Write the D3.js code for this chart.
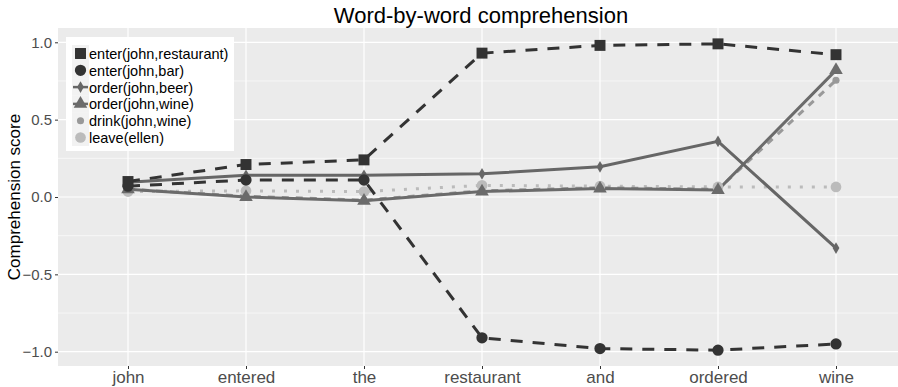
<!DOCTYPE html>
<html>
<head>
<meta charset="utf-8">
<script src="https://cdn.jsdelivr.net/npm/d3@7"></script>
<style>
  body { margin: 0; background: #fff; }
  text { font-family: "Liberation Sans", Arial, sans-serif; }
</style>
</head>
<body>
<div id="chart"></div>
<script>
var words = ["john", "entered", "the", "restaurant", "and", "ordered", "wine"];
var yTicks = [-1.0, -0.5, 0.0, 0.5, 1.0];

var enterRestaurant = [0.10, 0.21, 0.24, 0.93, 0.98, 0.99, 0.92];
var enterBar = [0.07, 0.11, 0.11, -0.91, -0.98, -0.99, -0.95];
var orderBeer = [0.095, 0.14, 0.14, 0.15, 0.195, 0.36, -0.33];
var orderWine = [0.05, 0.0, -0.025, 0.035, 0.055, 0.045, 0.82];
var drinkWine = [0.05, 0.005, -0.02, 0.04, 0.06, 0.05, 0.755];
var leaveEllen = [0.035, 0.04, 0.035, 0.075, 0.07, 0.065, 0.065];

var seriesNames = ["enter(john,restaurant)", "enter(john,bar)", "order(john,beer)",
                   "order(john,wine)", "drink(john,wine)", "leave(ellen)"];
var seriesValues = [enterRestaurant, enterBar, orderBeer, orderWine, drinkWine, leaveEllen];

function init() {
    var w = 898, h = 387;
    var left = 58, right = 898, top = 28, bottom = 366;

    var styles = [
        { color: "#333333", dash: "12,10", shape: d3.symbolSquare, size: 120 },
        { color: "#333333", dash: "12,10", shape: d3.symbolCircle, size: 100 },
        { color: "#666666", dash: null, shape: d3.symbolDiamond, size: 40 },
        { color: "#6b6b6b", dash: null, shape: d3.symbolTriangle, size: 80 },
        { color: "#999999", dash: "7,7", shape: d3.symbolCircle, size: 40 },
        { color: "#bbbbbb", dash: "3,9", shape: d3.symbolCircle, size: 90 }
    ];

    var svg = d3.select("#chart").append("svg")
        .attr("width", w).attr("height", h);

    var xScale = d3.scalePoint().domain(words).range([128, 836]);
    var yScale = d3.scaleLinear().domain([-1, 1]).range([351.7, 42.3]);

    svg.append("rect").attr("x", left).attr("y", top)
        .attr("width", right - left).attr("height", bottom - top)
        .attr("fill", "#ebebeb");

    // minor grid
    svg.selectAll(".minor").data([-0.75, -0.25, 0.25, 0.75]).enter()
        .append("line")
        .attr("x1", left).attr("x2", right)
        .attr("y1", function(d) { return yScale(d); })
        .attr("y2", function(d) { return yScale(d); })
        .attr("stroke", "#fff").attr("stroke-width", 0.6);

    svg.selectAll(".majorY").data(yTicks).enter()
        .append("line")
        .attr("x1", left).attr("x2", right)
        .attr("y1", function(d) { return yScale(d); })
        .attr("y2", function(d) { return yScale(d); })
        .attr("stroke", "#fff").attr("stroke-width", 1.2);

    svg.selectAll(".majorX").data(words).enter()
        .append("line")
        .attr("y1", top).attr("y2", bottom)
        .attr("x1", function(d) { return xScale(d); })
        .attr("x2", function(d) { return xScale(d); })
        .attr("stroke", "#fff").attr("stroke-width", 1.2);

    var xAxis = d3.axisBottom(xScale).tickSize(3).tickPadding(2);
    var yAxis = d3.axisLeft(yScale).tickValues(yTicks).tickSize(3).tickPadding(3)
        .tickFormat(d3.format(".1f"));

    var gx = svg.append("g").attr("transform", "translate(0," + bottom + ")").call(xAxis);
    gx.select(".domain").remove();
    gx.selectAll("line").attr("stroke", "#333");
    gx.selectAll("text").attr("fill", "#4d4d4d").style("font-size", "17px");

    var gy = svg.append("g").attr("transform", "translate(" + left + ",0)").call(yAxis);
    gy.select(".domain").remove();
    gy.selectAll("line").attr("stroke", "#333");
    gy.selectAll("text").attr("fill", "#4d4d4d").style("font-size", "15px")
        .text(function(d) { return d3.format(".1f")(d).replace("-", "\u2212"); });

    var line = d3.line()
        .x(function(d, i) { return xScale(words[i]); })
        .y(function(d) { return yScale(d); });

    var order = [5, 4, 3, 2, 1, 0];
    order.forEach(function(k) {
        var s = styles[k];
        svg.append("path").datum(seriesValues[k])
            .attr("d", line)
            .attr("fill", "none")
            .attr("stroke", s.color)
            .attr("stroke-width", 3)
            .attr("stroke-dasharray", s.dash);
    });
    order.forEach(function(k) {
        var s = styles[k];
        svg.append("g").selectAll("path").data(seriesValues[k]).enter()
            .append("path")
            .attr("transform", function(d, i) {
                return "translate(" + xScale(words[i]) + "," + yScale(d) + ")";
            })
            .attr("d", d3.symbol().type(s.shape).size(s.size))
            .attr("fill", s.color);
    });

    // legend
    var lg = svg.append("g").attr("transform", "translate(66,37)");
    lg.append("rect").attr("width", 168).attr("height", 114).attr("fill", "#fff");
    var items = lg.selectAll(".item").data(seriesNames).enter().append("g")
        .attr("transform", function(d, i) { return "translate(6," + (8 + i * 16.8) + ")"; });
    items.append("rect").attr("width", 17).attr("height", 17).attr("fill", "#f2f2f2");
    items.append("line").attr("x1", 1).attr("x2", 16).attr("y1", 8.5).attr("y2", 8.5)
        .attr("stroke", function(d, i) { return styles[i].color; })
        .attr("stroke-width", 2.5)
        .style("display", function(d, i) { return i === 2 || i === 3 ? null : "none"; });
    items.append("path")
        .attr("transform", "translate(8.5,8.5)")
        .attr("d", function(d, i) { return d3.symbol().type(styles[i].shape).size(styles[i].size)(); })
        .attr("fill", function(d, i) { return styles[i].color; });
    items.append("text").attr("x", 17).attr("y", 14)
        .style("font-size", "14.5px").attr("fill", "#000")
        .text(function(d) { return d; });

    svg.append("text").attr("x", 481).attr("y", 23)
        .attr("text-anchor", "middle").style("font-size", "22px").attr("fill", "#000")
        .text("Word-by-word comprehension");

    svg.append("text")
        .attr("transform", "translate(20," + ((top + bottom) / 2) + ") rotate(-90)")
        .attr("text-anchor", "middle").style("font-size", "17px").attr("fill", "#000")
        .text("Comprehension score");
}

window.onload = init;
</script>
</body>
</html>
